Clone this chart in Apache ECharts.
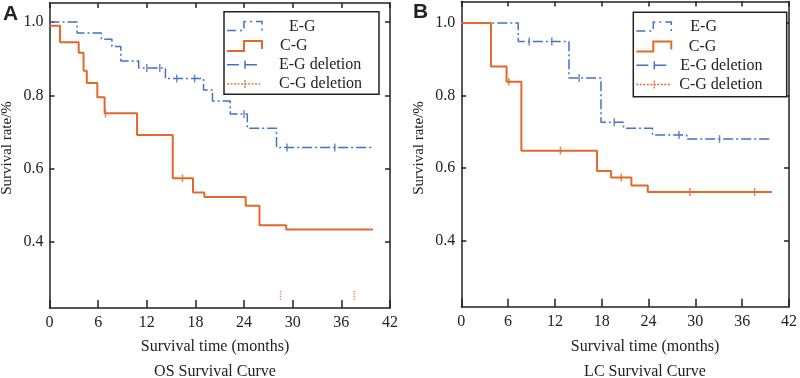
<!DOCTYPE html>
<html>
<head>
<meta charset="utf-8">
<script src="https://cdn.jsdelivr.net/npm/echarts@6/dist/echarts.min.js"></script>
<style>html,body{margin:0;padding:0;background:#fff}#main{width:800px;height:378px}</style>
</head>
<body>
<div id="main"></div>
<script>
// OS panel (A): step points [month, survival]
var osEgTime = [0, 3.4, 6.4, 7.7, 8.8, 11.0, 14.3, 19.0, 20.1, 22.3, 24.4, 28.0, 39.7]
var osEgRate = [1.0, 0.97, 0.953, 0.933, 0.894, 0.875, 0.846, 0.815, 0.785, 0.749, 0.71, 0.658, 0.658]
var osEgCensorTime = [12.0, 13.6, 15.7, 17.9, 24.0, 29.3, 35.2]
var osEgCensorRate = [0.875, 0.875, 0.846, 0.846, 0.749, 0.658, 0.658]
var osCgTime = [0, 1.3, 3.6, 4.2, 4.6, 5.9, 6.8, 10.8, 15.2, 17.7, 19.1, 24.2, 25.9, 29.2, 39.9]
var osCgRate = [0.99, 0.945, 0.916, 0.867, 0.834, 0.795, 0.751, 0.692, 0.574, 0.535, 0.523, 0.499, 0.446, 0.434, 0.434]
var osCgCensorTime = [6.9, 16.4]
var osCgCensorRate = [0.751, 0.574]
var osCgDelTime = [28.5, 37.6]
var osCgDelRate = [0.255, 0.255]
// LC panel (B)
var lcEgTime = [0, 7.3, 13.8, 17.9, 20.8, 24.5, 28.9, 39.7]
var lcEgRate = [1.0, 0.949, 0.848, 0.726, 0.71, 0.691, 0.68, 0.68]
var lcEgCensorTime = [8.7, 11.6, 15.1, 19.6, 27.9, 33.1]
var lcEgCensorRate = [0.949, 0.949, 0.848, 0.726, 0.691, 0.68]
var lcCgTime = [0, 3.8, 5.8, 7.7, 17.4, 19.2, 21.8, 23.9, 39.8]
var lcCgRate = [1.0, 0.88, 0.838, 0.648, 0.592, 0.574, 0.552, 0.534, 0.534]
var lcCgCensorTime = [6.1, 12.7, 20.5, 29.3, 37.6]
var lcCgCensorRate = [0.838, 0.648, 0.574, 0.534, 0.534]
var xTicks = [0, 6, 12, 18, 24, 30, 36, 42]
var yTicks = [0.4, 0.6, 0.8, 1.0]

var BLUE = '#4472C4', ORANGE = '#E2692A', SERIF = 'Liberation Serif'
function zip(a, b) { return a.map(function(v, i) { return [v, b[i]] }) }
var dotted = 'path://M0,0h1v2h-1z M0,4h1v2h-1z M0,8h1v2h-1z M0,12h1v2h-1z'

var grids = [
	{left: 49.5, right: 410, top: 3, bottom: 70, ymin: 0.22, ymax: 1.052},
	{left: 461.3, right: 2.3, top: 1.5, bottom: 71.3, ymin: 0.218, ymax: 1.059}
]
var option = {animation: false, grid: [], xAxis: [], yAxis: [], series: [], graphic: []}
grids.forEach(function(g, i) {
	option.grid.push({left: g.left, right: g.right, top: g.top, bottom: g.bottom})
	var axLine = {show: true, onZero: false, lineStyle: {color: '#222', width: 1.5}}
	option.xAxis.push({type: 'value', gridIndex: i, min: 0, max: 42, interval: 6, axisLine: axLine,
		axisTick: {inside: true, length: 8, lineStyle: {color: '#222', width: 1.5}},
		axisLabel: {color: '#222', fontFamily: SERIF, fontSize: 16, margin: 7, customValues: xTicks}, splitLine: {show: false}})
	option.xAxis.push({type: 'value', gridIndex: i, position: 'top', min: 0, max: 42, interval: 6, axisLine: axLine,
		axisTick: {inside: true, length: 5, lineStyle: {color: '#222', width: 1.5}}, axisLabel: {show: false}, splitLine: {show: false}})
	option.yAxis.push({type: 'value', gridIndex: i, min: g.ymin, max: g.ymax, axisLine: axLine,
		axisTick: {inside: true, length: 5, customValues: yTicks, lineStyle: {color: '#222', width: 1.5}},
		axisLabel: {color: '#222', fontFamily: SERIF, fontSize: 16, margin: 6, customValues: yTicks, formatter: function(v) { return v.toFixed(1) }},
		splitLine: {show: false}})
	option.yAxis.push({type: 'value', gridIndex: i, position: 'right', min: g.ymin, max: g.ymax, axisLine: axLine,
		axisTick: {inside: true, length: 5, customValues: yTicks, lineStyle: {color: '#222', width: 1.5}},
		axisLabel: {show: false, customValues: yTicks}, splitLine: {show: false}})
})

function step(i, data, color, type, width) {
	return {type: 'line', xAxisIndex: i * 2, yAxisIndex: i * 2, step: 'end', data: data, symbol: 'none',
		lineStyle: {color: color, width: width, type: type}, z: 3}
}
function censor(i, data, color, sym) {
	return {type: 'scatter', xAxisIndex: i * 2, yAxisIndex: i * 2, data: data, symbol: sym || 'rect',
		symbolSize: sym ? [1.5, 9] : [1.5, 8], itemStyle: {color: color}, z: 4}
}
var dashDot = [10, 3, 2, 3]
option.series.push(
	step(0, zip(osEgTime, osEgRate), BLUE, dashDot, 1.5),
	step(0, zip(osCgTime, osCgRate), ORANGE, 'solid', 2),
	censor(0, zip(osEgCensorTime, osEgCensorRate), BLUE),
	censor(0, zip(osCgCensorTime, osCgCensorRate), ORANGE),
	censor(0, zip(osCgDelTime, osCgDelRate), ORANGE, dotted),
	step(1, zip(lcEgTime, lcEgRate), BLUE, dashDot, 1.5),
	step(1, zip(lcCgTime, lcCgRate), ORANGE, 'solid', 2),
	censor(1, zip(lcEgCensorTime, lcEgCensorRate), BLUE),
	censor(1, zip(lcCgCensorTime, lcCgCensorRate), ORANGE)
)

// legends, labels and titles
var legendNames = ['E-G', 'C-G', 'E-G deletion', 'C-G deletion']
var panels = [
	{tag: 'A', tagX: 3, tagY: 14, box: [224, 11.7, 155, 82.6], textX: [65, 56, 55, 55], cx: 215, title: 'OS Survival Curve', yName: 7},
	{tag: 'B', tagX: 413, tagY: 12, box: [633.3, 12.3, 153.4, 84.4], textX: [57, 55.5, 47, 46], cx: 645, title: 'LC Survival Curve', yName: 419}
]
var txt = function(x, y, s, extra) {
	var st = {text: s, x: x, y: y, fill: '#222', font: '16px ' + SERIF, align: 'center', verticalAlign: 'middle'}
	for (var k in extra || {}) st[k] = extra[k]
	return {type: 'text', style: st, z: 10}
}
panels.forEach(function(p) {
	var bx = p.box[0], by = p.box[1], rows = [by + 14.7, by + 34.3, by + 53, by + 72.2]
	option.graphic.push({type: 'rect', shape: {x: bx, y: by, width: p.box[2], height: p.box[3]},
		style: {fill: '#fff', stroke: '#222', lineWidth: 1.5}, z: 9})
	var lx = bx + 3
	option.graphic.push(
		{type: 'polyline', shape: {points: [[lx, rows[0] + 4], [lx + 17, rows[0] + 4], [lx + 17, rows[0] - 5], [lx + 35, rows[0] - 5], [lx + 35, rows[0] + 4]]},
			style: {stroke: BLUE, lineWidth: 1.5, lineDash: [9, 4, 2, 4], fill: null}, z: 10},
		{type: 'polyline', shape: {points: [[lx, rows[1] + 5], [lx + 17, rows[1] + 5], [lx + 17, rows[1] - 5], [lx + 35, rows[1] - 5], [lx + 35, rows[1] + 3]]},
			style: {stroke: ORANGE, lineWidth: 2, fill: null}, z: 10},
		{type: 'line', shape: {x1: lx, y1: rows[2], x2: lx + 35, y2: rows[2]}, style: {stroke: BLUE, lineWidth: 1.5, lineDash: [12, 6]}, z: 10},
		{type: 'line', shape: {x1: lx + 18, y1: rows[2] - 4, x2: lx + 18, y2: rows[2] + 4}, style: {stroke: BLUE, lineWidth: 1.5}, z: 10},
		{type: 'line', shape: {x1: lx, y1: rows[3], x2: lx + 35, y2: rows[3]}, style: {stroke: ORANGE, lineWidth: 1.3, lineDash: [2, 1.5]}, z: 10},
		{type: 'line', shape: {x1: lx + 18, y1: rows[3] - 4, x2: lx + 18, y2: rows[3] + 4}, style: {stroke: ORANGE, lineWidth: 1.3, lineDash: [2, 1]}, z: 10}
	)
	legendNames.forEach(function(n, j) { option.graphic.push(txt(bx + p.textX[j], rows[j], n, {align: 'left'})) })
	option.graphic.push(
		txt(p.tagX, p.tagY, p.tag, {font: 'bold 21px Liberation Sans', align: 'left'}),
		txt(p.cx, 347, 'Survival time (months)'),
		txt(p.cx, 372, p.title),
		{type: 'text', x: p.yName, y: 148, rotation: Math.PI / 2,
			style: {text: 'Survival rate/%', fill: '#222', font: '15px ' + SERIF, align: 'center', verticalAlign: 'middle'}, z: 10}
	)
})

var chart = echarts.init(document.getElementById('main'), null, {renderer: 'canvas'})
chart.setOption(option)
</script>
</body>
</html>
